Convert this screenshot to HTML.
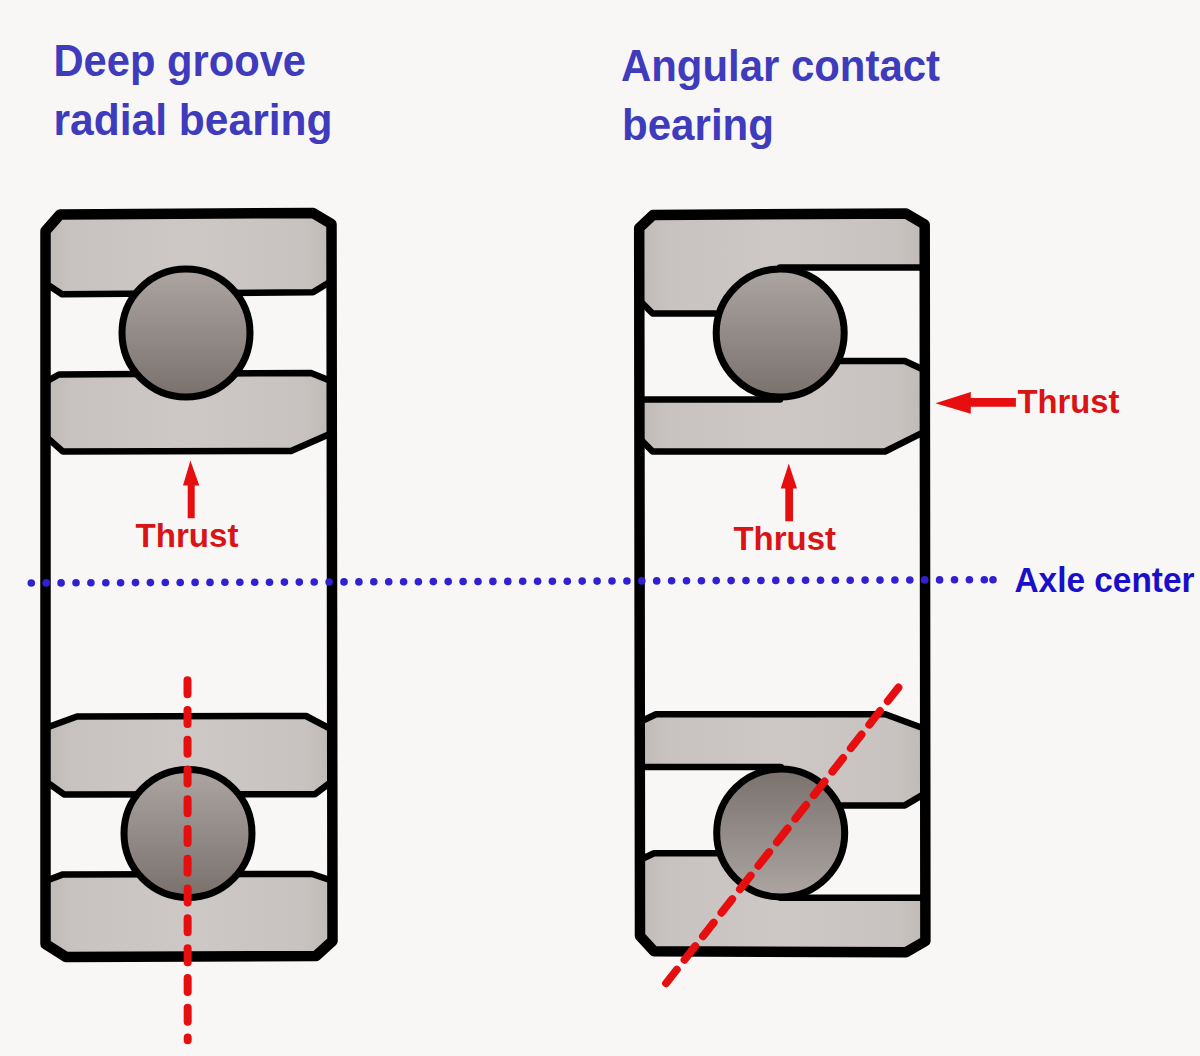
<!DOCTYPE html>
<html><head><meta charset="utf-8">
<style>
html,body{margin:0;padding:0;background:#f8f7f6;}
body{width:1200px;height:1056px;overflow:hidden;position:relative;}
svg{position:absolute;left:0;top:0;display:block;}
text{font-family:"Liberation Sans",sans-serif;font-weight:bold;}
</style></head>
<body>
<svg width="1200" height="1056" viewBox="0 0 1200 1056">
<defs>
<linearGradient id="ring" x1="0" y1="0" x2="1" y2="0">
<stop offset="0" stop-color="#c0bab7"/>
<stop offset="0.1" stop-color="#c8c3c0"/>
<stop offset="0.5" stop-color="#cdc8c5"/>
<stop offset="0.9" stop-color="#c8c3c0"/>
<stop offset="1" stop-color="#c0bab7"/>
</linearGradient>
<linearGradient id="ballD" x1="0" y1="0" x2="0" y2="1">
<stop offset="0" stop-color="#aca5a1"/>
<stop offset="1" stop-color="#7a716d"/>
</linearGradient>
<linearGradient id="ballU" x1="0" y1="0" x2="0" y2="1">
<stop offset="0" stop-color="#7a716d"/>
<stop offset="1" stop-color="#aca5a1"/>
</linearGradient>
</defs>
<rect width="1200" height="1056" fill="#f8f7f6"/>

<!-- LEFT BEARING rings -->
<g fill="url(#ring)" stroke="#000" stroke-width="6.5" stroke-linejoin="round">
<path d="M45.5,231 L60,214.5 L313,213 L331.5,224 L331.5,281 L313,292.3 L62,294.3 L45.5,283.3 Z"/>
<path d="M45.5,382 L59,374.5 L311,373 L331.5,381.2 L331.5,433.2 L291,451 L63,451.6 L45.5,436.1 Z"/>
<path d="M45.5,728 L77,716.5 L306,716 L331.5,729.4 L331.5,781.7 L315,794.2 L64,794.4 L45.5,781.2 Z"/>
<path d="M45.5,881 L63,874.4 L312,874 L331.5,880.5 L331.5,941 L316,956 L66,957 L45.5,944 Z"/>
</g>
<g stroke="#000" stroke-width="7">
<circle cx="186" cy="333" r="64" fill="url(#ballD)"/>
<circle cx="188" cy="833.4" r="64" fill="url(#ballD)"/>
</g>
<path d="M45.5,231 L60,214.5 L313,213 L331.5,224 L332.5,941 L316,956 L66,957 L45.5,944 Z" fill="none" stroke="#000" stroke-width="10.5" stroke-linejoin="round"/>

<!-- RIGHT BEARING rings -->
<g fill="url(#ring)" stroke="#000" stroke-width="6.5" stroke-linejoin="round">
<path d="M639.2,228 L653,215 L906,213.5 L924.7,224.5 L924.7,267.5 L780,267.5 L780,333 L716,313.5 L652.6,313.5 L639.2,300 Z"/>
<path d="M639.2,399.5 L780,399.5 L780,333 L837,361 L904.8,361 L924.7,370.2 L924.7,431.6 L885,451.5 L652.6,451.5 L639.2,438 Z"/>
<path d="M639.2,722.2 L656,714.3 L885.3,714.3 L924.7,728.7 L924.7,793.6 L904.8,805.4 L838.4,805.4 L780.7,833 L780.7,767 L639.2,767 Z"/>
<path d="M639.2,860.3 L654,853.2 L719.9,853.2 L780.7,833 L780.7,897.7 L925.4,897.7 L925.4,941 L906,952.3 L654,951.3 L640,936 Z"/>
</g>
<g stroke="#000" stroke-width="7">
<circle cx="780.2" cy="333" r="64" fill="url(#ballD)"/>
<circle cx="780.7" cy="833" r="64" fill="url(#ballU)"/>
</g>
<path d="M639.2,228 L653,215 L906,213.5 L924.7,224.5 L925.4,941 L906,952.3 L654,951.3 L640,936 Z" fill="none" stroke="#000" stroke-width="10.5" stroke-linejoin="round"/>

<!-- red dashed lines -->
<line x1="187.5" y1="680.2" x2="187.7" y2="1040.3" stroke="#e60e0e" stroke-width="8" stroke-linecap="round" stroke-dasharray="14 15.77"/>
<line x1="666" y1="983.3" x2="898.5" y2="687.5" stroke="#e60e0e" stroke-width="7.8" stroke-linecap="round" stroke-dasharray="17.5 12.4"/>

<!-- arrows -->
<g fill="#e60e0e">
<path d="M190.4,460.5 L199.3,485.6 L194.7,485.6 L194.7,518.3 L187.7,518.3 L187.7,485.6 L183,485.6 Z"/>
<path d="M788.8,463.4 L797,488.5 L793,488.5 L793,521.2 L785.3,521.2 L785.3,488.5 L780.7,488.5 Z"/>
<path d="M935.4,403.3 L970.8,391.9 L970.8,398 L1015.9,398 L1015.9,406.8 L970.8,406.8 L970.8,413.8 Z"/>
</g>

<!-- texts -->
<g fill="#3e3bbd" font-size="44">
<text x="53.5" y="75.75" textLength="252.5" lengthAdjust="spacingAndGlyphs">Deep groove</text>
<text x="53.5" y="134.75" textLength="279" lengthAdjust="spacingAndGlyphs">radial bearing</text>
<text x="621" y="80.75" textLength="319" lengthAdjust="spacingAndGlyphs">Angular contact</text>
<text x="622" y="139.75" textLength="152" lengthAdjust="spacingAndGlyphs">bearing</text>
</g>
<g fill="#d91414" font-size="34">
<text x="135.5" y="546.5" textLength="103" lengthAdjust="spacingAndGlyphs">Thrust</text>
<text x="733.5" y="549.5" textLength="102.5" lengthAdjust="spacingAndGlyphs">Thrust</text>
<text x="1017.5" y="413" textLength="102" lengthAdjust="spacingAndGlyphs">Thrust</text>
</g>
<text x="1014.5" y="591.75" font-size="35" fill="#1a0fc8" textLength="180" lengthAdjust="spacingAndGlyphs">Axle center</text>

<!-- dotted axle line -->
<g id="dots" fill="#3020d0"><circle cx="31.3" cy="583.0" r="3.8"/><circle cx="46.2" cy="582.9" r="3.8"/><circle cx="61.1" cy="582.9" r="3.8"/><circle cx="76.0" cy="582.8" r="3.8"/><circle cx="90.9" cy="582.8" r="3.8"/><circle cx="105.8" cy="582.7" r="3.8"/><circle cx="120.6" cy="582.7" r="3.8"/><circle cx="135.5" cy="582.6" r="3.8"/><circle cx="150.4" cy="582.6" r="3.8"/><circle cx="165.3" cy="582.5" r="3.8"/><circle cx="180.2" cy="582.5" r="3.8"/><circle cx="195.1" cy="582.4" r="3.8"/><circle cx="210.0" cy="582.4" r="3.8"/><circle cx="224.9" cy="582.3" r="3.8"/><circle cx="239.8" cy="582.3" r="3.8"/><circle cx="254.7" cy="582.2" r="3.8"/><circle cx="269.5" cy="582.2" r="3.8"/><circle cx="284.4" cy="582.1" r="3.8"/><circle cx="299.3" cy="582.1" r="3.8"/><circle cx="314.2" cy="582.0" r="3.8"/><circle cx="329.1" cy="582.0" r="3.8"/><circle cx="344.0" cy="581.9" r="3.8"/><circle cx="358.9" cy="581.9" r="3.8"/><circle cx="373.8" cy="581.8" r="3.8"/><circle cx="388.7" cy="581.8" r="3.8"/><circle cx="403.6" cy="581.7" r="3.8"/><circle cx="418.4" cy="581.7" r="3.8"/><circle cx="433.3" cy="581.6" r="3.8"/><circle cx="448.2" cy="581.6" r="3.8"/><circle cx="463.1" cy="581.5" r="3.8"/><circle cx="478.0" cy="581.5" r="3.8"/><circle cx="492.9" cy="581.4" r="3.8"/><circle cx="507.8" cy="581.4" r="3.8"/><circle cx="522.7" cy="581.3" r="3.8"/><circle cx="537.6" cy="581.3" r="3.8"/><circle cx="552.4" cy="581.2" r="3.8"/><circle cx="567.3" cy="581.2" r="3.8"/><circle cx="582.2" cy="581.1" r="3.8"/><circle cx="597.1" cy="581.1" r="3.8"/><circle cx="612.0" cy="581.0" r="3.8"/><circle cx="626.9" cy="581.0" r="3.8"/><circle cx="641.8" cy="580.9" r="3.8"/><circle cx="656.7" cy="580.9" r="3.8"/><circle cx="671.6" cy="580.8" r="3.8"/><circle cx="686.5" cy="580.8" r="3.8"/><circle cx="701.4" cy="580.7" r="3.8"/><circle cx="716.2" cy="580.6" r="3.8"/><circle cx="731.1" cy="580.6" r="3.8"/><circle cx="746.0" cy="580.5" r="3.8"/><circle cx="760.9" cy="580.5" r="3.8"/><circle cx="775.8" cy="580.4" r="3.8"/><circle cx="790.7" cy="580.4" r="3.8"/><circle cx="805.6" cy="580.3" r="3.8"/><circle cx="820.5" cy="580.3" r="3.8"/><circle cx="835.4" cy="580.2" r="3.8"/><circle cx="850.2" cy="580.2" r="3.8"/><circle cx="865.1" cy="580.1" r="3.8"/><circle cx="880.0" cy="580.1" r="3.8"/><circle cx="894.9" cy="580.0" r="3.8"/><circle cx="909.8" cy="580.0" r="3.8"/><circle cx="924.7" cy="579.9" r="3.8"/><circle cx="939.6" cy="579.9" r="3.8"/><circle cx="954.5" cy="579.8" r="3.8"/><circle cx="969.4" cy="579.8" r="3.8"/><circle cx="984.3" cy="579.7" r="3.8"/><circle cx="993.0" cy="579.7" r="3.8"/></g>
</svg>
</body></html>
